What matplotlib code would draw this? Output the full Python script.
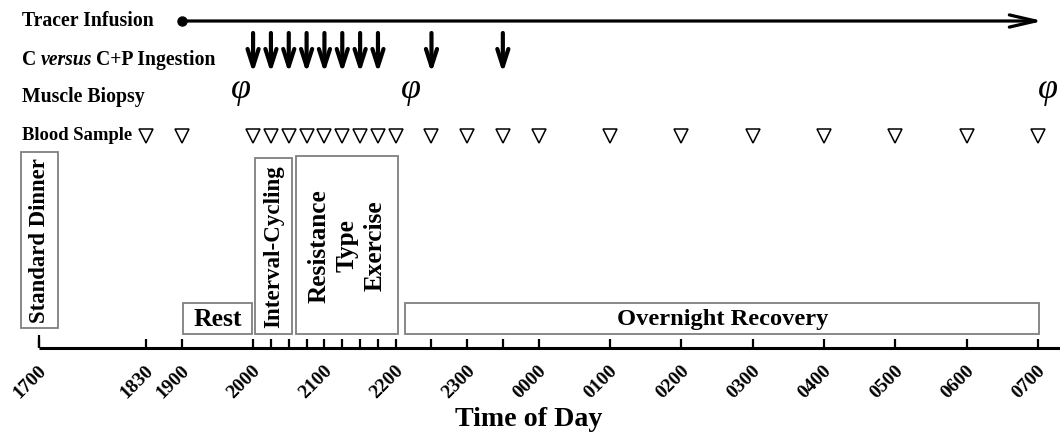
import matplotlib.pyplot as plt
from matplotlib.patches import Rectangle

plt.rcParams['font.family'] = ['Liberation Serif', 'DejaVu Serif']
plt.rcParams['font.weight'] = 'bold'


def hrs(t):
    # clock time "HHMM" -> hours after 17:00 (night wraps past midnight)
    h = int(t[:2]) + int(t[2:]) / 60
    return h - 17 if h >= 12 else h + 7


tick_times = ['1700', '1830', '1900', '2000', '2015', '2030', '2045', '2100',
              '2115', '2130', '2145', '2200', '2230', '2300', '2330', '0000',
              '0100', '0200', '0300', '0400', '0500', '0600', '0700']
tick_labels = ['1700', '1830', '1900', '2000', '2100', '2200', '2300', '0000',
               '0100', '0200', '0300', '0400', '0500', '0600', '0700']

tracer_start = '1900'
tracer_end = '0704'
ingestion_times = ['2000', '2015', '2030', '2045', '2100', '2115', '2130',
                   '2145', '2230', '2330']
biopsy_times = ['1950', '2213', '0708']
blood_times = ['1830', '1900', '2000', '2015', '2030', '2045', '2100', '2115',
               '2130', '2145', '2200', '2230', '2300', '2330', '0000', '0100',
               '0200', '0300', '0400', '0500', '0600', '0700']

box_labels = ['Standard Dinner', 'Rest', 'Interval-Cycling',
              'Resistance\nType\nExercise', 'Overnight Recovery']
box_start = ['1645', '1901', '2002', '2036', '2208']
box_end = ['1716', '1959', '2033', '2202', '0701']

# layout (pixel rows, figure is 1060 x 434)
box_top = [152, 303, 158, 156, 303]
box_bot = [328, 334, 334, 334, 334]
box_rot = [90, 0, 90, 90, 0]
box_fs = [16.4, 18.5, 16.6, 18.2, 17.6]
row_y = {'tracer': 21, 'ingest': 60, 'biopsy': 97, 'blood': 136}
axis_y = 348
px_per_h = 71.36
x0_px = 39
lab_fs = 14.2

fig = plt.figure(figsize=(10.6, 4.34), dpi=100)
ax = fig.add_axes([0, 0, 1, 1])
ax.set_xlim(-x0_px / px_per_h, (1060 - x0_px) / px_per_h)
ax.set_ylim(434, 0)
ax.axis('off')
lab = ax.get_yaxis_transform()

# row labels
ax.text(22 / 1060, row_y['tracer'], 'Tracer Infusion', transform=lab,
        fontsize=lab_fs, va='center', ha='left')
t1 = ax.text(22 / 1060, row_y['ingest'], 'C', transform=lab,
             fontsize=lab_fs, va='center', ha='left')
t2 = ax.annotate('versus', xy=(1, 0), xycoords=t1, xytext=(3, 0),
                 textcoords='offset points', va='bottom', ha='left',
                 fontsize=lab_fs, style='italic')
ax.annotate('C+P Ingestion', xy=(1, 0), xycoords=t2, xytext=(3, 0),
            textcoords='offset points', va='bottom', ha='left',
            fontsize=lab_fs)
ax.text(22 / 1060, row_y['biopsy'], 'Muscle Biopsy', transform=lab,
        fontsize=lab_fs, va='center', ha='left')
ax.text(22 / 1060, row_y['blood'], 'Blood Sample', transform=lab,
        fontsize=13.4, va='center', ha='left')

# tracer infusion
ax.plot(hrs(tracer_start), row_y['tracer'], 'o', ms=6.5, color='k')
ax.annotate('', xy=(hrs(tracer_end), row_y['tracer']),
            xytext=(hrs(tracer_start), row_y['tracer']),
            arrowprops=dict(arrowstyle='->,head_length=0.95,head_width=0.22',
                            lw=2.3, color='k', shrinkA=0, shrinkB=0,
                            mutation_scale=20))

# ingestion arrows
for t in ingestion_times:
    ax.annotate('', xy=(hrs(t), 73), xytext=(hrs(t), 33),
                arrowprops=dict(arrowstyle='->,head_length=0.62,head_width=0.2',
                                lw=3.0, color='k', shrinkA=0, shrinkB=0,
                                mutation_scale=20))

# biopsies
for t in biopsy_times:
    ax.text(hrs(t), 90, '\u03c6', fontsize=26, style='italic',
            fontweight='normal', ha='center', va='center')

# blood samples
ax.plot([hrs(t) for t in blood_times], [row_y['blood']] * len(blood_times),
        'v', ls='none', ms=10, mfc='white', mec='k', mew=1.1)

# activity boxes
for name, s, e, top, bot, rot, fs in zip(box_labels, box_start, box_end,
                                         box_top, box_bot, box_rot, box_fs):
    xs, xe = hrs(s), hrs(e)
    ax.add_patch(Rectangle((xs, top), xe - xs, bot - top, fill=False,
                           ec='#7f7f7f', lw=1.3))
    ax.text((xs + xe) / 2, (top + bot) / 2 + 1, name, rotation=rot,
            fontsize=fs, ha='center', va='center', multialignment='center',
            linespacing=1.3)

# time axis
ax.plot([0, ax.get_xlim()[1]], [axis_y, axis_y], color='k', lw=2.2,
        solid_capstyle='butt')
ax.vlines([hrs(t) for t in tick_times], axis_y - 9, axis_y, color='k', lw=1.6)
ax.vlines(hrs(tick_times[0]), axis_y - 13, axis_y, color='k', lw=1.6)
for t in tick_labels:
    ax.text(hrs(t) - 1 / px_per_h, 362, t, rotation=45, ha='right', va='top',
            rotation_mode='anchor', fontsize=14)
fig.text(0.499, 1 - 419 / 434, 'Time of Day', ha='center', va='center',
         fontsize=20.2)

fig.savefig('out.png', dpi=100, facecolor='white')
